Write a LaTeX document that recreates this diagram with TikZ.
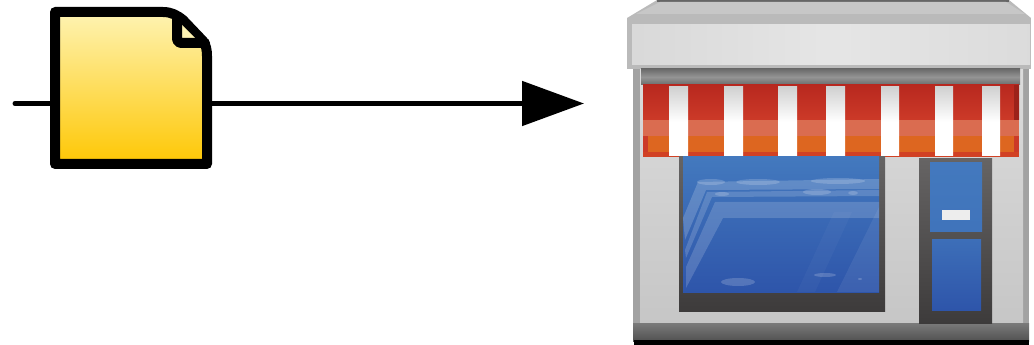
\documentclass[tikz,border=0pt]{standalone}
\usetikzlibrary{arrows.meta}
\definecolor{cpaperlight}{HTML}{FEF3B2}
\definecolor{cpaperdark}{HTML}{FEC704}
\definecolor{cwallhigh}{HTML}{DCDCDC}
\definecolor{cwalllow}{HTML}{C6C6C6}
\definecolor{cedge}{HTML}{A2A2A2}
\definecolor{credtop}{HTML}{B8281F}
\definecolor{credlow}{HTML}{CC3A28}
\definecolor{corange}{HTML}{DD6620}
\definecolor{cband}{HTML}{DA6C50}
\definecolor{cglasstop}{HTML}{4379BE}
\definecolor{cglasslow}{HTML}{2E55AA}
\definecolor{cframetop}{HTML}{666464}
\definecolor{cframelow}{HTML}{3D3B3B}
\tikzset{
  every picture/.style={line width=3.75pt},
  arrow/.style={-{Triangle[length=46.5pt, width=33pt]}, draw=black, line cap=round},
  paper/.style={draw=black, line width=7.5pt, line join=round, top color=cpaperlight, bottom color=cpaperdark},
  fold/.style={draw=black, line width=7.5pt, line join=round, line cap=round, rounded corners=3pt},
  wall/.style={top color=cwallhigh, bottom color=cwalllow},
  stripe/.style={top color=white!82!black, bottom color=white, middle color=white},
  frame/.style={top color=cframetop, bottom color=cframelow},
  glass/.style={top color=cglasstop, bottom color=cglasslow},
  shine/.style={fill=white, opacity=#1},
  shine/.default=0.18,
}
\begin{document}
\begin{tikzpicture}[x=0.75pt, y=-0.75pt]
  \useasboundingbox (0,0) rectangle (1034,345);
  % connector behind the sheet
  \coordinate (start) at (15,103.5);
  \coordinate (tip) at (584,103.5);
  \draw[arrow] (start) -- (tip);
  % sheet
  \path[paper] (55,12) -- (163,12) .. controls (171,12) and (177,15) .. (183,20) -- (203,41) .. controls (206,45) and (207,50) .. (207,56) -- (207,164) -- (55,164) -- cycle;
  \fill[black] (177,14) -- (185,18) -- (205,40) -- (205,44) -- (177,44) -- cycle;
  \fill[cpaperlight] (182,25) -- (195,38) -- (182,38) -- cycle;
  \draw[fold] (177,17) -- (177,43) -- (205,43);
  % roof
  \fill[black!27] (657,0) -- (1009,0) -- (1031,18) -- (627,18) -- cycle;
  \fill[black!60] (657,0) rectangle (1009,2);
  \fill[black!22] (660,2) -- (1006,2) -- (1025,14) -- (636,14) -- cycle;
  % wall and base
  \fill[cedge] (633,68) rectangle (1029,325);
  \shade[wall] (640,68) rectangle (1023,325);
  \shade[top color=black!52, bottom color=black!68] (633,323) rectangle (1029,341);
  \fill[black] (634,340) rectangle (1029,345);
  % sign board
  \fill[black!27] (627,18) rectangle (1031,69);
  \shade[left color=black!15, right color=black!14, middle color=black!10] (632,25) rectangle (1030,65);
  % awning
  \shade[top color=black!58, bottom color=black!58, middle color=black!42] (641,69) rectangle (1020,85);
  \shade[top color=credtop, bottom color=credlow] (643,85) rectangle (1019,120);
  \fill[cband] (643,120) rectangle (1019,136);
  \fill[corange] (643,136) rectangle (1019,152);
  \fill[credlow!90!orange] (643,152) rectangle (1019,157);
  \fill[credlow] (643,136) rectangle (648,152);
  \fill[credlow] (1014,136) rectangle (1019,152);
  \fill[credtop!85!black] (1014,85) rectangle (1019,120);
  \foreach \k/\w in {669/688, 724/743, 778/797, 826/845, 881/899, 935/953, 982/1000}
    \shade[stripe] (\k,87) rectangle (\w,156);
  % window
  \shade[frame] (679,157) rectangle (885,311);
  \shade[glass] (683,157) rectangle (879,292);
  \fill[shine=0.18] (683,218) -- (698,182) -- (879,179) -- (879,189) -- (706,190) -- (685,240) -- cycle;
  \fill[shine=0.16] (685,250) -- (707,192) -- (879,190) -- (879,196) -- (712,197) -- (686,258) -- cycle;
  \fill[shine=0.16] (686,267) -- (715,202) -- (879,202) -- (879,218) -- (723,218) -- (686,288) -- cycle;
  \fill[shine=0.07] (837,292) -- (879,207) -- (879,292) -- cycle;
  \fill[shine=0.03] (797,292) -- (834,212) -- (852,212) -- (815,292) -- cycle;
  \foreach \k/\w/\a/\b in {711/182/14/3, 758/182/22/3, 838/181/27/3, 817/192/14/3, 722/194/7/2, 853/193/5/2, 738/282/17/4, 825/275/11/2, 860/279/2/1}
    \fill[shine] (\k,\w) ellipse [x radius=\a, y radius=\b];
  % door
  \shade[frame] (919,159) rectangle (992,323);
  \shade[top color=cglasstop, bottom color=cglasstop!85!cglasslow] (930,163) rectangle (982,232);
  \shade[top color=cglasstop!70!cglasslow, bottom color=cglasslow] (932,240) rectangle (981,310);
  \fill[white!93!black] (942,210) rectangle (970,220);
\end{tikzpicture}
\end{document}
